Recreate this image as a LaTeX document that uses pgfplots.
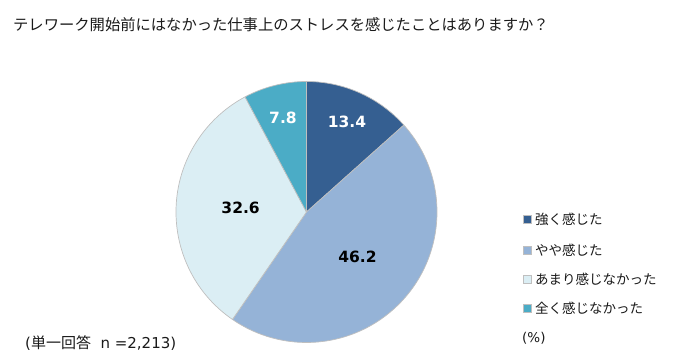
\documentclass[border=0pt]{standalone}
\usepackage{fontspec}
\setmainfont{Noto Sans CJK JP}
\newfontfamily\numfont{DejaVu Sans}
\usepackage{pgfplots}
\usepackage{pgfplotstable}
\pgfplotsset{compat=1.18}
\definecolor{c1}{HTML}{355F91}
\definecolor{c2}{HTML}{95B3D7}
\definecolor{c3}{HTML}{DBEEF4}
\definecolor{c4}{HTML}{4BACC6}
\definecolor{edge}{HTML}{BFBFBF}
\definecolor{txt}{HTML}{1A1A1A}
\newcommand\numfnt{\numfont\bfseries\fontsize{15.5bp}{17bp}\selectfont}
\newcommand\legfnt{\fontsize{13.5bp}{15bp}\selectfont}
\newcommand\notefnt{\fontsize{15bp}{17bp}\selectfont}

\pgfplotstableread{
value color txtcol r
13.4 c1 white 99
46.2 c2 black 68
32.6 c3 black 66
7.8 c4 white 97
}\piedata

\begin{document}
\begin{tikzpicture}
\begin{axis}[hide axis, scale only axis, x=1bp, y=1bp, xmin=0, xmax=690, ymin=0, ymax=361, clip=false]
\path (axis cs:0,0) rectangle (axis cs:690,361);
\def\cx{306.5}\def\cy{149}\def\R{130.5}
\pgfmathsetmacro\cum{90}
\pgfplotsforeachungrouped \i in {0,...,3}{%
  \pgfplotstablegetelem{\i}{value}\of\piedata \let\v\pgfplotsretval
  \pgfplotstablegetelem{\i}{color}\of\piedata \let\c\pgfplotsretval
  \pgfplotstablegetelem{\i}{txtcol}\of\piedata \let\tc\pgfplotsretval
  \pgfplotstablegetelem{\i}{r}\of\piedata \let\rr\pgfplotsretval
  \pgfmathsetmacro\endang{\cum-3.6*\v}
  \pgfmathsetmacro\mid{(\cum+\endang)/2}
  \pgfmathsetmacro\lx{\cx+\rr*cos(\mid)}
  \pgfmathsetmacro\ly{\cy+\rr*sin(\mid)}
  \edef\temp{\noexpand\filldraw[fill=\c, draw=edge, line width=0.7pt, line join=round] (axis cs:\cx,\cy) -- ++(\cum:\R bp) arc[start angle=\cum, end angle=\endang, radius=\R bp] -- cycle;
    \noexpand\node[text=\tc, font=\noexpand\numfnt] at (axis cs:\lx,\ly) {\v};}
  \temp
  \global\let\cum\endang
}
% title
\node[anchor=west, text=txt, font=\fontsize{15.3bp}{17bp}\selectfont, inner sep=0pt] at (axis cs:13,336) {テレワーク開始前にはなかった仕事上のストレスを感じたことはありますか？};
% legend
\filldraw[fill=c1, draw=edge, line width=0.4pt] (axis cs:523,138) rectangle (axis cs:531,146);
\node[anchor=west, text=txt, font=\legfnt, inner sep=0pt] at (axis cs:535,142) {強く感じた};
\filldraw[fill=c2, draw=edge, line width=0.4pt] (axis cs:523,107) rectangle (axis cs:531,115);
\node[anchor=west, text=txt, font=\legfnt, inner sep=0pt] at (axis cs:535,111) {やや感じた};
\filldraw[fill=c3, draw=edge, line width=0.4pt] (axis cs:523,77.5) rectangle (axis cs:531,85.5);
\node[anchor=west, text=txt, font=\legfnt, inner sep=0pt] at (axis cs:535,81.5) {あまり感じなかった};
\filldraw[fill=c4, draw=edge, line width=0.4pt] (axis cs:523,49) rectangle (axis cs:531,57);
\node[anchor=west, text=txt, font=\legfnt, inner sep=0pt] at (axis cs:535,53) {全く感じなかった};
\node[anchor=west, text=txt, font=\legfnt, inner sep=0pt] at (axis cs:522,23) {{\numfont(\%)}};
\node[anchor=west, text=txt, font=\notefnt, inner sep=0pt] at (axis cs:25,18) {{\numfont(}単一回答{\numfont\ \ n =2,213)}};
\end{axis}
\end{tikzpicture}
\end{document}
